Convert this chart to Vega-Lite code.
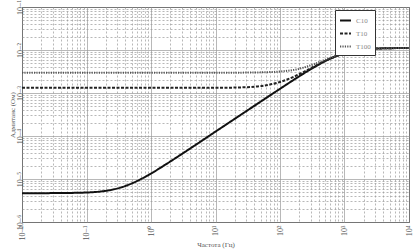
{
  "$schema": "https://vega.github.io/schema/vega-lite/v6.json",
  "width": 387,
  "height": 215,
  "autosize": {"type": "none"},
  "padding": {"left": 22, "top": 7, "right": 4, "bottom": 29},
  "background": "white",
  "config": {
    "view": {"stroke": "#222", "strokeWidth": 1},
    "font": "Liberation Serif"
  },
  "data": {
    "values": [
      {"s": "С10", "f": 0.01, "y": 4.677e-6},
      {"s": "С10", "f": 0.03162, "y": 4.70e-6},
      {"s": "С10", "f": 0.1, "y": 4.85e-6},
      {"s": "С10", "f": 0.3162, "y": 6.14e-6},
      {"s": "С10", "f": 0.5623, "y": 8.49e-6},
      {"s": "С10", "f": 1, "y": 1.343e-5},
      {"s": "С10", "f": 1.778, "y": 2.287e-5},
      {"s": "С10", "f": 3.162, "y": 4.01e-5},
      {"s": "С10", "f": 5.623, "y": 7.10e-5},
      {"s": "С10", "f": 10, "y": 1.265e-4},
      {"s": "С10", "f": 31.62, "y": 3.98e-4},
      {"s": "С10", "f": 100, "y": 1.25e-3},
      {"s": "С10", "f": 177.8, "y": 2.198e-3},
      {"s": "С10", "f": 316.2, "y": 3.75e-3},
      {"s": "С10", "f": 562.3, "y": 5.98e-3},
      {"s": "С10", "f": 1000, "y": 8.37e-3},
      {"s": "С10", "f": 1778, "y": 1.003e-2},
      {"s": "С10", "f": 3162, "y": 1.080e-2},
      {"s": "С10", "f": 10000, "y": 1.117e-2},
      {"s": "Т10", "f": 0.01, "y": 1.318e-3},
      {"s": "Т10", "f": 0.1, "y": 1.318e-3},
      {"s": "Т10", "f": 1, "y": 1.318e-3},
      {"s": "Т10", "f": 10, "y": 1.32e-3},
      {"s": "Т10", "f": 31.62, "y": 1.368e-3},
      {"s": "Т10", "f": 56.23, "y": 1.483e-3},
      {"s": "Т10", "f": 100, "y": 1.799e-3},
      {"s": "Т10", "f": 177.8, "y": 2.529e-3},
      {"s": "Т10", "f": 316.2, "y": 3.926e-3},
      {"s": "Т10", "f": 562.3, "y": 6.05e-3},
      {"s": "Т10", "f": 1000, "y": 8.39e-3},
      {"s": "Т10", "f": 1778, "y": 1.003e-2},
      {"s": "Т10", "f": 3162, "y": 1.080e-2},
      {"s": "Т10", "f": 10000, "y": 1.117e-2},
      {"s": "Т100", "f": 0.01, "y": 2.951e-3},
      {"s": "Т100", "f": 0.1, "y": 2.951e-3},
      {"s": "Т100", "f": 1, "y": 2.951e-3},
      {"s": "Т100", "f": 10, "y": 2.955e-3},
      {"s": "Т100", "f": 31.62, "y": 2.985e-3},
      {"s": "Т100", "f": 56.23, "y": 3.034e-3},
      {"s": "Т100", "f": 100, "y": 3.162e-3},
      {"s": "Т100", "f": 177.8, "y": 3.516e-3},
      {"s": "Т100", "f": 316.2, "y": 4.53e-3},
      {"s": "Т100", "f": 562.3, "y": 6.34e-3},
      {"s": "Т100", "f": 1000, "y": 8.47e-3},
      {"s": "Т100", "f": 1778, "y": 1.005e-2},
      {"s": "Т100", "f": 3162, "y": 1.080e-2},
      {"s": "Т100", "f": 10000, "y": 1.117e-2}
    ]
  },
  "mark": {"type": "line", "strokeWidth": 2, "interpolate": "monotone"},
  "encoding": {
    "x": {
      "field": "f", "type": "quantitative",
      "scale": {"type": "log", "domain": [0.01, 10000], "nice": false},
      "axis": {
        "title": "Частота (Гц)",
        "titleFontSize": 7, "titleFontWeight": "normal", "titleColor": "#555", "titlePadding": 1,
        "values": [0.01,0.02,0.03,0.04,0.05,0.06,0.07,0.08,0.09,0.1,0.2,0.3,0.4,0.5,0.6,0.7,0.8,0.9,1,2,3,4,5,6,7,8,9,10,20,30,40,50,60,70,80,90,100,200,300,400,500,600,700,800,900,1000,2000,3000,4000,5000,6000,7000,8000,9000,10000],
        "labelExpr": "abs(log(datum.value)/LN10 - round(log(datum.value)/LN10)) < 1e-6 ? '10' + replace(replace(replace(replace(replace(replace(format(round(log(datum.value)/LN10), 'd'), '-', '⁻'), '0', '⁰'), '1', '¹'), '2', '²'), '3', '³'), '4', '⁴') : ''",
        "labelAngle": -90, "labelFontSize": 8, "labelColor": "#555", "labelPadding": 3,
        "ticks": false, "domain": false,
        "gridColor": "#999",
        "gridDash": {"condition": {"test": "abs(log(datum.value)/LN10 - round(log(datum.value)/LN10)) < 1e-6", "value": []}, "value": [2, 2]},
        "gridWidth": 0.7
      }
    },
    "y": {
      "field": "y", "type": "quantitative",
      "scale": {"type": "log", "domain": [1e-6, 0.1], "nice": false},
      "axis": {
        "title": "Адмитанс (Ом)",
        "titleFontSize": 7, "titleFontWeight": "normal", "titleColor": "#555", "titlePadding": 1,
        "values": [1e-6,2e-6,3e-6,4e-6,5e-6,6e-6,7e-6,8e-6,9e-6,1e-5,2e-5,3e-5,4e-5,5e-5,6e-5,7e-5,8e-5,9e-5,1e-4,2e-4,3e-4,4e-4,5e-4,6e-4,7e-4,8e-4,9e-4,1e-3,2e-3,3e-3,4e-3,5e-3,6e-3,7e-3,8e-3,9e-3,0.01,0.02,0.03,0.04,0.05,0.06,0.07,0.08,0.09,0.1],
        "labelExpr": "abs(log(datum.value)/LN10 - round(log(datum.value)/LN10)) < 1e-6 ? '10' + replace(replace(replace(replace(replace(replace(replace(format(round(log(datum.value)/LN10), 'd'), '-', '⁻'), '1', '¹'), '2', '²'), '3', '³'), '4', '⁴'), '5', '⁵'), '6', '⁶') : ''",
        "labelAngle": -90, "labelFontSize": 8, "labelColor": "#555", "labelPadding": 2, "labelBaseline": "middle", "labelAlign": "center",
        "ticks": false, "domain": false,
        "gridColor": "#999",
        "gridDash": {"condition": {"test": "abs(log(datum.value)/LN10 - round(log(datum.value)/LN10)) < 1e-6", "value": []}, "value": [2, 2]},
        "gridWidth": 0.7
      }
    },
    "color": {
      "field": "s", "type": "nominal", "sort": ["С10", "Т10", "Т100"],
      "scale": {"domain": ["С10", "Т10", "Т100"], "range": ["#111", "#222", "#555"]},
      "legend": {
        "title": null, "orient": "none", "legendX": 313, "legendY": 3,
        "fillColor": "white", "strokeColor": "#333", "padding": 4,
        "symbolType": "stroke", "symbolSize": 120, "symbolStrokeWidth": 2,
        "labelFontSize": 7, "labelColor": "#888", "rowPadding": 2
      }
    },
    "strokeDash": {
      "field": "s", "type": "nominal", "sort": ["С10", "Т10", "Т100"],
      "scale": {"domain": ["С10", "Т10", "Т100"], "range": [[1, 0], [3, 1.5], [1.2, 1.2]]},
      "legend": {
        "title": null, "orient": "none", "legendX": 313, "legendY": 3,
        "fillColor": "white", "strokeColor": "#333", "padding": 4,
        "symbolType": "stroke", "symbolSize": 120, "symbolStrokeWidth": 2,
        "labelFontSize": 7, "labelColor": "#888", "rowPadding": 2
      }
    }
  }
}
